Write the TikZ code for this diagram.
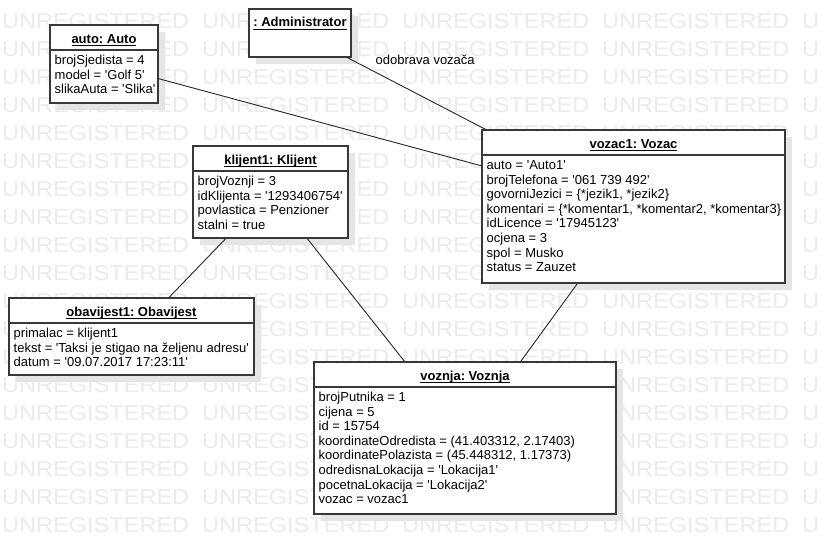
\documentclass[tikz,border=0pt]{standalone}
\usepackage{fontspec}
\setmainfont{Liberation Sans}
\newcommand\apos{\textquotesingle}
\newcommand\ulx[1]{\setbox0\hbox{#1}\rlap{\rule[-2.6pt]{\wd0}{0.9pt}}\box0}
\frenchspacing
\tikzset{
  objbox/.style={draw=black!78, line width=1.2pt, fill=white, rectangle, inner sep=0pt},
  shadowbox/.style={fill=black!10, draw=none},
  ttl/.style={font=\fontsize{13}{15}\selectfont\bfseries, inner sep=0pt, anchor=base},
  attr/.style={font=\fontsize{13}{15}\selectfont, inner sep=0pt, anchor=base west},
  wm/.style={font=\fontsize{21.4}{21.4}\selectfont, text=black!8, inner sep=0pt, anchor=base west, xscale=1.1},
  link/.style={draw=black!85, line width=0.9pt},
  divl/.style={draw=black!78, line width=1.2pt},
}
% #1 name, #2 L, #3 T, #4 R, #5 B, #6 title, #7 attribute lines
\newcommand\umlobj[7]{%
  \fill[shadowbox] ({(#2)+7},{(#3)+7}) rectangle ({(#4)+7},{(#5)+7});
  \node[objbox, minimum width={(#4)-(#2)}, minimum height={(#5)-(#3)}] (#1) at ({((#2)+(#4))/2},{((#3)+(#5))/2}) {};
  \node[ttl] (#1-t) at ({((#2)+(#4))/2},{(#3)+18}) {\ulx{#6}};
  \draw[divl] (#2,{(#3)+25}) -- (#4,{(#3)+25});
  \foreach \lin [count=\i from 0] in {#7} {\node[attr] (#1-a\i) at ({(#2)+4.5},{(#3)+25+14.5+14.6*\i}) {\lin};}
}
\begin{document}
\begin{tikzpicture}[x=1pt,y=-1pt]
\useasboundingbox (0,0) rectangle (825,554);
\fill[white] (0,0) rectangle (825,554);
\begin{scope}
\clip (0,0) rectangle (825,554);
\foreach \r in {0,...,18}{%
  \foreach \c in {0,...,3}{\node[wm] (wm-\r-\c) at ({2+200*\c},{28+28.05*\r}) {UNREGISTERED};}
  \node[wm] (wm-\r-4) at (802,{28+28.05*\r}) {U};
}
\end{scope}

\umlobj{auto}{50}{25}{158}{103}{auto: Auto}{brojSjedista = 4, model = \apos Golf 5\apos, slikaAuta = \apos Slika\apos}

\fill[shadowbox] (256,16) rectangle (358,64);
\node[objbox, minimum width=102, minimum height=48] (admin) at (300,33) {};
\node[ttl] (admin-t) at (300,27) {\ulx{: Administrator}};

\umlobj{vozac}{482}{130}{785}{283}{vozac1: Vozac}{auto = \apos Auto1\apos, brojTelefona = \apos 061 739 492\apos, {govorniJezici = \{*jezik1, *jezik2\}}, {komentari = \{*komentar1, *komentar2, *komentar3\}}, idLicence = \apos 17945123\apos, ocjena = 3, spol = Musko, status = Zauzet}

\umlobj{klijent}{193}{146}{348}{238}{klijent1: Klijent}{brojVoznji = 3, idKlijenta = \apos 1293406754\apos, povlastica = Penzioner, stalni = true}

\umlobj{obav}{9}{298}{254}{375}{obavijest1: Obavijest}{primalac = klijent1, tekst = \apos Taksi je stigao na željenu adresu\apos, datum = \apos 09.07.2017 17:23:11\apos}

\umlobj{voznja}{314}{362}{616}{514}{voznja: Voznja}{brojPutnika = 1, cijena = 5, id = 15754, {koordinateOdredista = (41.403312, 2.17403)}, {koordinatePolazista = (45.448312, 1.17373)}, odredisnaLokacija = \apos Lokacija1\apos, pocetnaLokacija = \apos Lokacija2\apos, vozac = vozac1}

\draw[link] (auto) -- (vozac);
\draw[link] (admin) -- (vozac);
\draw[link] (klijent) -- (obav);
\draw[link] (klijent) -- (voznja);
\draw[link] (vozac) -- (voznja);
\node[attr] (lbl) at (375.5,64) {odobrava vozača};
\end{tikzpicture}
\end{document}
